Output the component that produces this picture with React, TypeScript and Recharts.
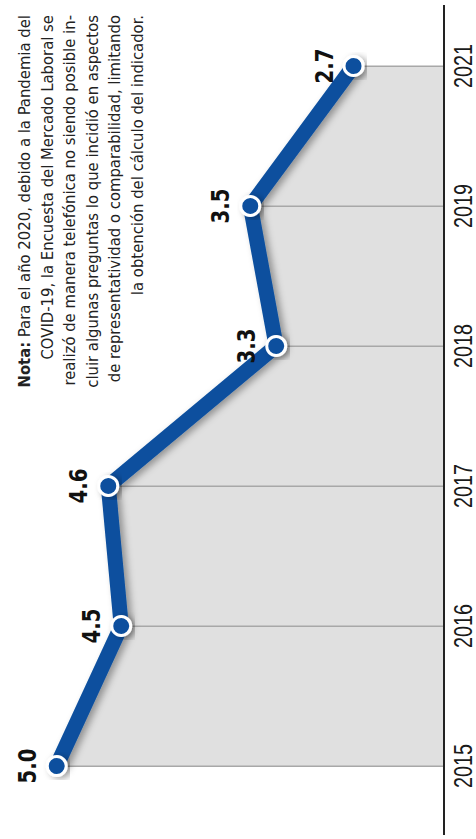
import React from 'react';
import { ComposedChart, Area, Bar, Line, XAxis, YAxis, LabelList } from 'recharts';

const years = ['2015', '2016', '2017', '2018', '2019', '2021'];
const values = [5.0, 4.5, 4.6, 3.3, 3.5, 2.7];
const valueLabels = ['5.0', '4.5', '4.6', '3.3', '3.5', '2.7'];
const yDomain = [2, 5.4];
const noteLines = [
  { bold: 'Nota:', text: ' Para el año 2020, debido a la Pandemia del' },
  { bold: '', text: 'COVID-19, la Encuesta del Mercado Laboral se' },
  { bold: '', text: 'realizó de manera telefónica no siendo posible in-' },
  { bold: '', text: 'cluir algunas preguntas lo que incidió en aspectos' },
  { bold: '', text: 'de representatividad o comparabilidad, limitando' },
  { bold: '', text: 'la obtención del cálculo del indicador.' },
];

const data = years.map((year, i) => ({ year, value: values[i], label: valueLabels[i] }));

const BLUE = '#0a4f9e';
const NARROW = "'Liberation Sans Narrow', 'DejaVu Sans Condensed', 'Arial Narrow', sans-serif";

const W = 839;
const H = 476;

const YearTick = (props: any) => {
  const { x, y, payload } = props;
  return (
    <text
      x={x}
      y={y}
      dy={20}
      textAnchor="middle"
      fill="#1a1a1a"
      fontFamily="'Liberation Sans', Arial, sans-serif"
      fontSize={25}
      textLength={44}
      lengthAdjust="spacingAndGlyphs"
    >
      {payload.value}
    </text>
  );
};

const ValueLabel = (props: any) => {
  const { x, y, width, value } = props;
  const cx = x + (width || 0) / 2;
  return (
    <text
      x={cx}
      y={y - 21}
      textAnchor="middle"
      fill="#111"
      fontFamily="'DejaVu Sans', sans-serif"
      fontWeight="bold"
      fontSize={25}
      textLength={35}
      lengthAdjust="spacingAndGlyphs"
    >
      {value}
    </text>
  );
};

const Dot = (props: any) => {
  const { cx, cy, index } = props;
  return (
    <circle key={`dot-${index}`} cx={cx} cy={cy} r={9.5} fill={BLUE} stroke="#fff" strokeWidth={3} filter="url(#shadow)" />
  );
};

export default function App() {
  return (
    <div style={{ position: 'absolute', left: 0, top: 0, width: 476, height: 839, overflow: 'hidden', background: '#fff' }}>
      <div
        style={{
          position: 'absolute',
          left: 0,
          top: 0,
          width: W,
          height: H,
          transformOrigin: '0 0',
          transform: `translate(0px, ${W}px) rotate(-90deg)`,
        }}
      >
        <ComposedChart width={W} height={H} data={data} margin={{ top: 5, right: 5, bottom: 0, left: 4 }}>
          <defs>
            <filter id="shadow" x="-20%" y="-20%" width="140%" height="140%">
              <feDropShadow dx={-2} dy={4} stdDeviation={3.5} floodColor="#000" floodOpacity={0.35} />
            </filter>
          </defs>
          <XAxis
            dataKey="year"
            type="category"
            scale="point"
            padding={{ left: 69, right: 61 }}
            height={32}
            axisLine={{ stroke: '#222', strokeWidth: 2 }}
            tickLine={false}
            tick={<YearTick />}
            interval={0}
          />
          <YAxis type="number" domain={yDomain} hide allowDataOverflow />
          <Area
            dataKey="value"
            type="linear"
            fill="#e0e0e0"
            fillOpacity={1}
            stroke="none"
            baseValue={yDomain[0]}
            isAnimationActive={false}
          />
          <Bar dataKey="value" barSize={1.5} fill="#a8a8a8" isAnimationActive={false} />
          <Line
            dataKey="value"
            type="linear"
            stroke={BLUE}
            strokeWidth={15}
            strokeLinejoin="round"
            filter="url(#shadow)"
            dot={<Dot />}
            activeDot={false}
            isAnimationActive={false}
          >
            <LabelList dataKey="label" content={<ValueLabel />} />
          </Line>
        </ComposedChart>
        <div
          style={{
            position: 'absolute',
            right: 15,
            top: 14,
            width: 440,
            textAlign: 'right',
            fontFamily: NARROW,
            fontSize: 16.5,
            lineHeight: '22.5px',
            color: '#222',
            whiteSpace: 'pre',
          }}
        >
          {noteLines.map((l, i) => (
            <div key={i}>
              {l.bold ? <b>{l.bold}</b> : null}
              {l.text}
            </div>
          ))}
        </div>
      </div>
    </div>
  );
}
